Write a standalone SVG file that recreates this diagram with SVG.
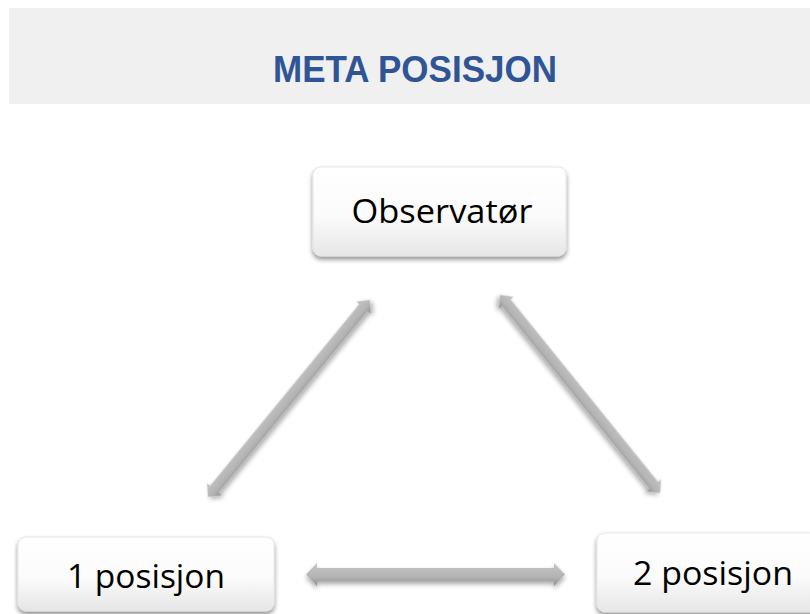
<svg xmlns="http://www.w3.org/2000/svg" width="810" height="614" viewBox="0 0 810 614">
  <defs>
    <linearGradient id="boxFill" x1="0" y1="0" x2="0" y2="1">
      <stop offset="0" stop-color="#ffffff"/>
      <stop offset="0.55" stop-color="#fbfbfb"/>
      <stop offset="1" stop-color="#e6e6e6"/>
    </linearGradient>
    <linearGradient id="arrowFill" x1="0" y1="0" x2="0" y2="1">
      <stop offset="0" stop-color="#c4c4c4"/>
      <stop offset="0.6" stop-color="#b4b4b4"/>
      <stop offset="1" stop-color="#8f8f8f"/>
    </linearGradient>
    <filter id="boxShadow" x="-10%" y="-20%" width="120%" height="150%">
      <feGaussianBlur in="SourceAlpha" stdDeviation="2.5"/>
      <feOffset dx="0" dy="3" result="b"/>
      <feComponentTransfer><feFuncA type="linear" slope="0.45"/></feComponentTransfer>
      <feMerge><feMergeNode/><feMergeNode in="SourceGraphic"/></feMerge>
    </filter>
    <filter id="arrowShadow" x="-20%" y="-60%" width="140%" height="220%">
      <feGaussianBlur in="SourceAlpha" stdDeviation="2.5"/>
      <feOffset dx="0" dy="3"/>
      <feComponentTransfer><feFuncA type="linear" slope="0.35"/></feComponentTransfer>
      <feMerge><feMergeNode/><feMergeNode in="SourceGraphic"/></feMerge>
    </filter>
  </defs>
  <style>
    .title { font-family: "Liberation Sans", Arial, sans-serif; font-weight: bold; font-size: 37px; fill: #2f5597; }
    .label { font-family: "Open Sans", "Liberation Sans", sans-serif; font-size: 33px; fill: #000000; }
    .box { fill: url(#boxFill); stroke: #e2e2e2; stroke-width: 0.8; filter: url(#boxShadow); }
    .arrow { fill: url(#arrowFill); filter: url(#arrowShadow); }
  </style>

  <rect x="0" y="0" width="810" height="614" fill="#ffffff"/>

  <!-- header band -->
  <g id="header">
    <rect x="9" y="8" width="801" height="96" fill="#f0f0f0"/>
    <text class="title" x="415" y="82" text-anchor="middle" textLength="284" lengthAdjust="spacingAndGlyphs">META POSISJON</text>
  </g>

  <!-- double-headed connectors -->
  <g id="connectors">
    <path class="arrow" transform="translate(208,497) rotate(-50.6)" d="M0,0 L10,-9.5 L10,-5.5 L245,-5.5 L245,-9.5 L255,0 L245,9.5 L245,5.5 L10,5.5 L10,9.5 Z"/>
    <path class="arrow" transform="translate(500,295) rotate(51.06)" d="M0,0 L10,-9.5 L10,-5.5 L244.6,-5.5 L244.6,-9.5 L254.6,0 L244.6,9.5 L244.6,5.5 L10,5.5 L10,9.5 Z"/>
    <path class="arrow" transform="translate(306,574.5)" d="M0,0 L11,-11.5 L11,-6.5 L248,-6.5 L248,-11.5 L259,0 L248,11.5 L248,6.5 L11,6.5 L11,11.5 Z"/>
  </g>

  <g id="observator">
    <rect class="box" x="313" y="167" width="253" height="89" rx="8"/>
    <text class="label" x="442" y="223" text-anchor="middle" textLength="181" lengthAdjust="spacingAndGlyphs">Observatør</text>
  </g>

  <g id="posisjon1">
    <rect class="box" x="18" y="537" width="256" height="74" rx="8"/>
    <text class="label" x="146" y="588" text-anchor="middle" textLength="158" lengthAdjust="spacingAndGlyphs">1 posisjon</text>
  </g>

  <g id="posisjon2">
    <rect class="box" x="597" y="533" width="232" height="79" rx="8"/>
    <text class="label" x="713" y="585" text-anchor="middle" textLength="160" lengthAdjust="spacingAndGlyphs">2 posisjon</text>
  </g>
</svg>
